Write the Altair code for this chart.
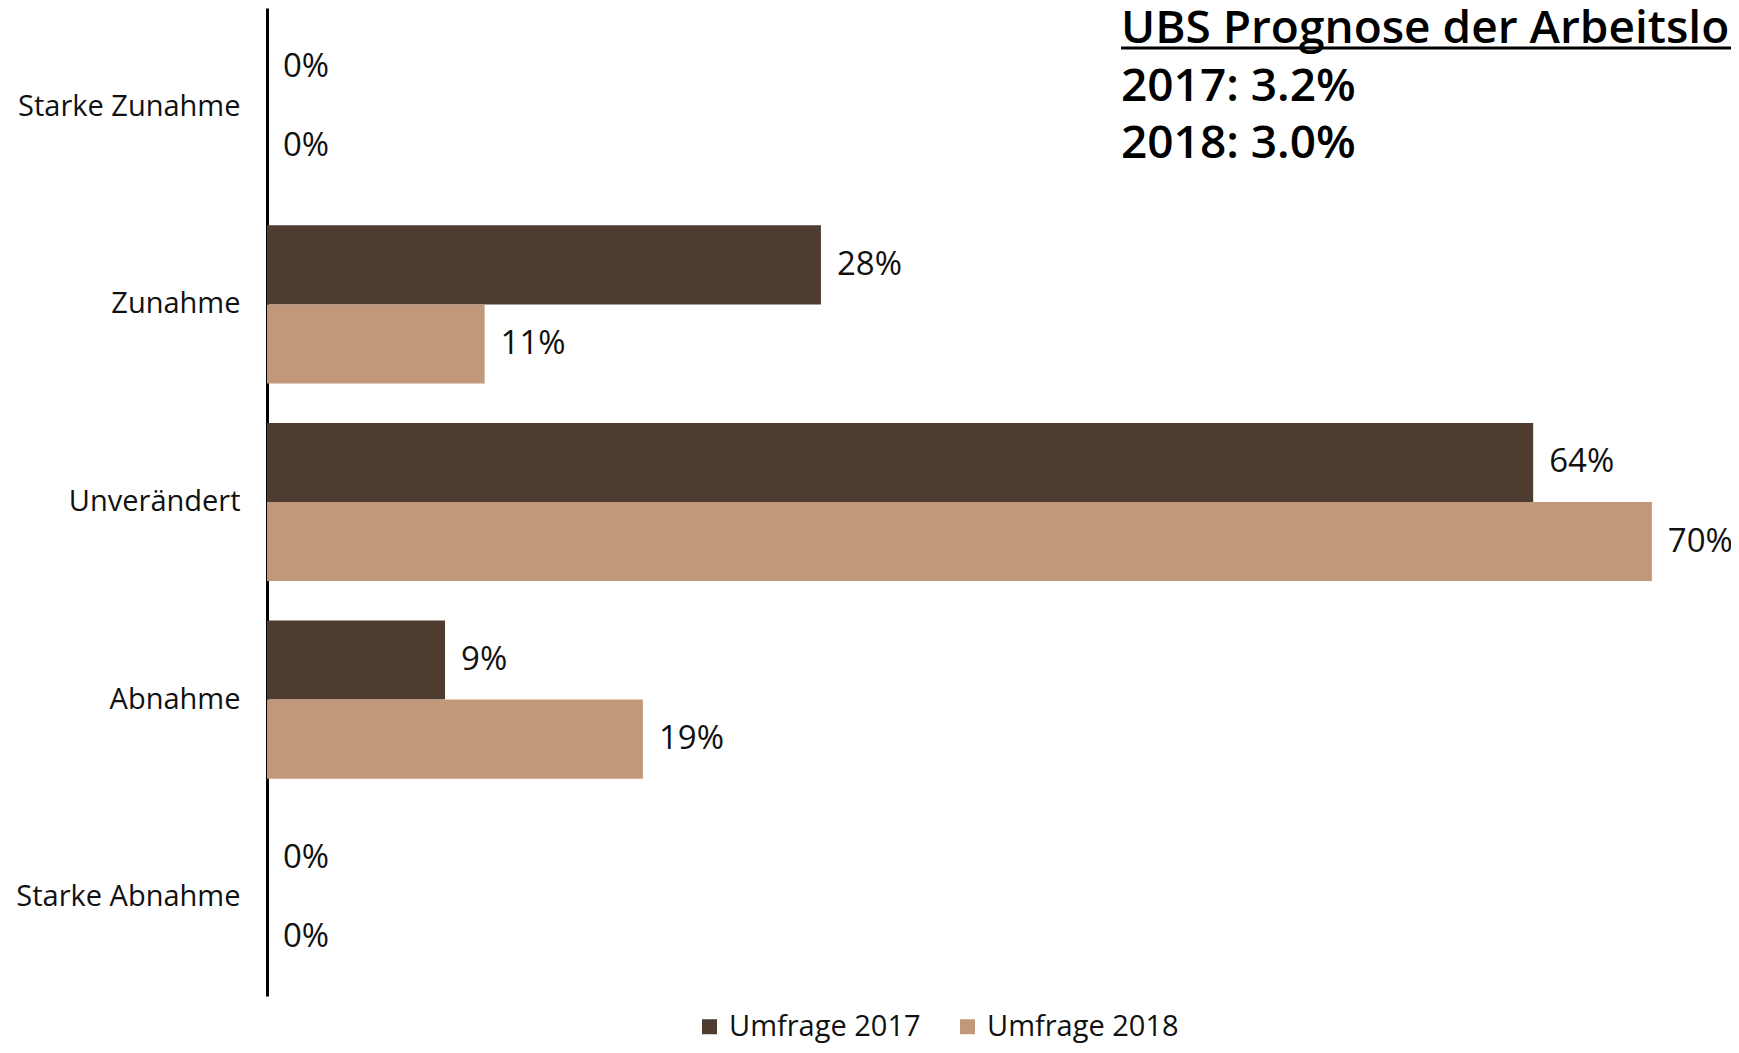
import altair as alt
import pandas as pd

categories = ["Starke Zunahme", "Zunahme", "Unverändert", "Abnahme", "Starke Abnahme"]
series = ["Umfrage 2017", "Umfrage 2018"]
values_2017 = [0, 28, 64, 9, 0]
values_2018 = [0, 11, 70, 19, 0]
colors = ["#4E3C31", "#C1987A"]
note_lines = ["UBS Prognose der Arbeitslosenquote", "2017: 3.2%", "2018: 3.0%"]

rows = []
for c, v1, v2 in zip(categories, values_2017, values_2018):
    rows.append({"Kategorie": c, "Serie": series[0], "Wert": v1, "Label": f"{v1}%"})
    rows.append({"Kategorie": c, "Serie": series[1], "Wert": v2, "Label": f"{v2}%"})
df = pd.DataFrame(rows)

FONT = "Open Sans"
W, H = 1464, 988

band_scale = alt.Scale(paddingInner=0.2, paddingOuter=0.1)
y_enc = alt.Y("Kategorie:N", sort=categories, scale=band_scale,
              axis=alt.Axis(title=None, ticks=False, tickSize=0, labelFontSize=29,
                            labelFont=FONT, labelColor="#111", labelPadding=27,
                            labelLimit=0,
                            domainColor="#000", domainWidth=3, grid=False))
x_enc = alt.X("Wert:Q", scale=alt.Scale(domain=[0, 74], nice=False), axis=None)
yoff = alt.YOffset("Serie:N", sort=series)

bars = alt.Chart(df).mark_bar().encode(
    y=y_enc, x=x_enc, yOffset=yoff,
    color=alt.Color("Serie:N", sort=series,
                    scale=alt.Scale(domain=series, range=colors),
                    legend=alt.Legend(title=None, orient="none", direction="horizontal",
                                      legendX=428, legendY=1004, padding=0,
                                      symbolType="square", symbolSize=225,
                                      symbolStrokeWidth=0, labelFontSize=29,
                                      labelFont=FONT, labelColor="#111", labelLimit=0,
                                      labelOffset=5, columnPadding=32)),
)

labels = alt.Chart(df).mark_text(align="left", baseline="middle", dx=16,
                                 fontSize=33, font=FONT, color="#111").encode(
    y=alt.Y("Kategorie:N", sort=categories, scale=band_scale),
    x=x_enc, yOffset=yoff, text="Label:N"
)

bars_layer = alt.layer(bars, labels)

notes = pd.DataFrame({"line": note_lines, "i": [0, 1, 2]})
note_text = alt.Chart(notes).mark_text(align="left", baseline="alphabetic",
                                       fontSize=46, font=FONT, fontWeight=600,
                                       color="#000").encode(
    x=alt.value(854),
    y=alt.Y("i:Q", scale=alt.Scale(domain=[0, 2], range=[35, 150]), axis=None),
    text="line:N",
)
underline = alt.Chart(pd.DataFrame({"a": [0]})).mark_rule(color="#000", strokeWidth=3).encode(
    x=alt.value(854), x2=alt.value(W + 40), y=alt.value(40)
)

chart = alt.layer(bars_layer, note_text, underline).resolve_scale(y="independent").properties(
    width=W, height=H, background="white",
    autosize=alt.AutoSizeParams(type="none"),
    padding={"left": 259, "top": 0, "right": 0, "bottom": 49},
).configure_view(strokeWidth=0, stroke=None)

chart.save("out.html", embed_options={"renderer": "svg", "actions": False})
